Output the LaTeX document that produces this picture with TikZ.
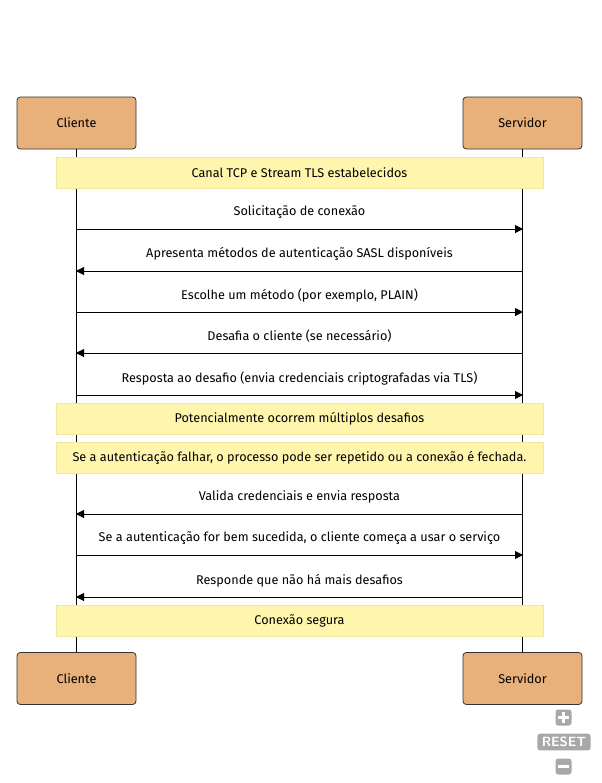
\documentclass[tikz,border=0pt]{standalone}
\usepackage{fontspec}
\setmainfont{Fira Sans}
\usetikzlibrary{arrows.meta}
\definecolor{actorfill}{HTML}{E8B07A}
\definecolor{actorline}{HTML}{333333}
\definecolor{notefill}{HTML}{FFF5AD}
\definecolor{noteline}{HTML}{EFE6A0}
\definecolor{ctrl}{HTML}{A8A8A8}
\tikzset{
  actor/.style={draw=actorline, fill=actorfill, rounded corners=2.5pt, line width=0.6pt,
    minimum width=119*0.75pt, minimum height=52*0.75pt, inner sep=0pt, font=\fontsize{9.5}{11}\selectfont},
  note/.style={draw=noteline, fill=notefill, line width=0.6pt, minimum width=487*0.75pt,
    minimum height=31*0.75pt, inner sep=0pt, font=\fontsize{9.5}{11}\selectfont},
  lifeline/.style={line width=1pt, draw=black},
  msg/.style={line width=0.75pt, -{Triangle[length=6pt,width=6pt]}},
  msgtext/.style={font=\fontsize{9.5}{11}\selectfont, inner sep=0pt, anchor=center, yshift=12.5pt},
  ctrlbox/.style={fill=ctrl, rounded corners=2pt, text=white, inner sep=0pt, font=\sffamily\bfseries\fontsize{10}{10}\selectfont}
}
\begin{document}
\begin{tikzpicture}[x=0.75pt, y=-0.75pt]
\useasboundingbox (0,0) rectangle (602,783);
% actors
\node[actor] (ct) at (76.5,123) {Cliente};
\node[actor] (st) at (522.5,123) {Servidor};
\node[actor] (cb) at (76.5,678.5) {Cliente};
\node[actor] (sb) at (522.5,678.5) {Servidor};
% lifelines
\draw[lifeline] (ct.south) -- (cb.north);
\draw[lifeline] (st.south) -- (sb.north);
% notes
\node[note] (n1) at (299.5,172.5) {Canal TCP e Stream TLS estabelecidos};
\node[note] (n2) at (299.5,418.5) {Potencialmente ocorrem múltiplos desafios};
\node[note] (n3) at (299.5,457.5) {Se a autenticação falhar, o processo pode ser repetido ou a conexão é fechada.};
\node[note] (n4) at (299.5,620.5) {Conexão segura};
% message coordinates
\foreach \i/\y in {1/229,2/271,3/312,4/353,5/395,6/514,7/555,8/597}{
  \coordinate (c\i) at (76,\y);
  \coordinate (s\i) at (523,\y);
}
\draw[msg] (c1) -- (s1) node[msgtext, midway] {Solicitação de conexão};
\draw[msg] (s2) -- (c2) node[msgtext, midway] {Apresenta métodos de autenticação SASL disponíveis};
\draw[msg] (c3) -- (s3) node[msgtext, midway] {Escolhe um método (por exemplo, PLAIN)};
\draw[msg] (s4) -- (c4) node[msgtext, midway] {Desafia o cliente (se necessário)};
\draw[msg] (c5) -- (s5) node[msgtext, midway] {Resposta ao desafio (envia credenciais criptografadas via TLS)};
\draw[msg] (s6) -- (c6) node[msgtext, midway] {Valida credenciais e envia resposta};
\draw[msg] (c7) -- (s7) node[msgtext, midway] {Se a autenticação for bem sucedida, o cliente começa a usar o serviço};
\draw[msg] (s8) -- (c8) node[msgtext, midway] {Responde que não há mais desafios};
% zoom controls
\node[ctrlbox, minimum width=12pt, minimum height=12pt] (plus) at (563.5,717.5) {};
\draw[white, line width=2.2pt] ([xshift=-3.8pt]plus.center) -- ([xshift=3.8pt]plus.center);
\draw[white, line width=2.2pt] ([yshift=-3.8pt]plus.center) -- ([yshift=3.8pt]plus.center);
\node[ctrlbox, minimum width=40pt, minimum height=12.5pt] (reset) at (564,742) {RESET};
\node[ctrlbox, minimum width=12pt, minimum height=12pt] (minus) at (563.5,766.5) {};
\draw[white, line width=2.2pt] ([xshift=-3.8pt]minus.center) -- ([xshift=3.8pt]minus.center);
\end{tikzpicture}
\end{document}
